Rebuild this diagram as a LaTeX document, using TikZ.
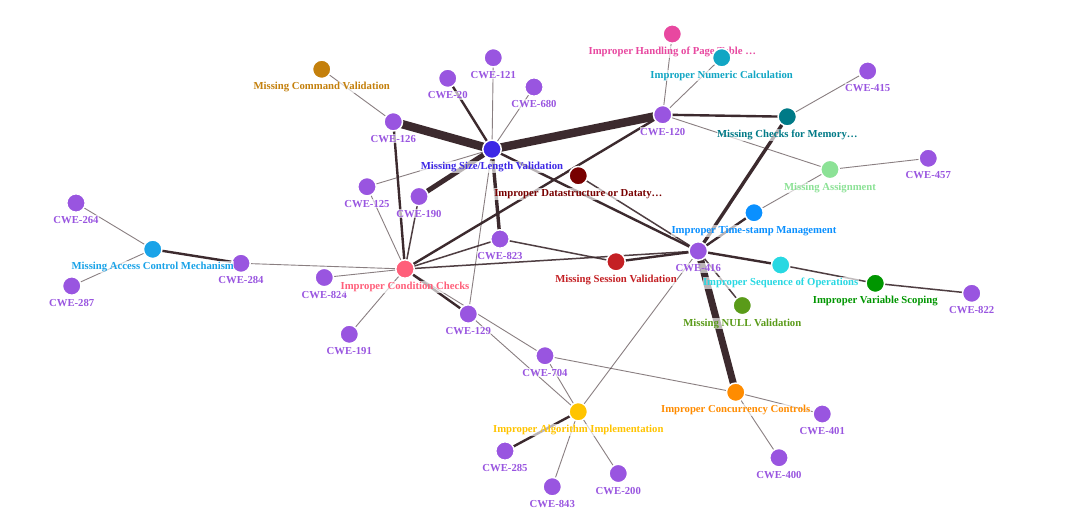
\documentclass[tikz,border=0pt]{standalone}
\usepackage{fontspec}
\setmainfont{Liberation Serif}
\pgfdeclarelayer{edges}
\pgfsetlayers{edges,main}
\definecolor{cwe}{RGB}{153,85,224}
\definecolor{edgec}{RGB}{60,42,46}
\definecolor{cpage}{RGB}{232,72,160}
\definecolor{cnum}{RGB}{17,166,196}
\definecolor{cmcv}{RGB}{196,128,12}
\definecolor{cmslv}{RGB}{61,40,230}
\definecolor{cmcm}{RGB}{0,122,135}
\definecolor{cma}{RGB}{140,226,150}
\definecolor{cds}{RGB}{120,0,0}
\definecolor{citm}{RGB}{10,144,255}
\definecolor{cmacm}{RGB}{26,163,232}
\definecolor{cmsv}{RGB}{196,32,36}
\definecolor{cicc}{RGB}{255,95,122}
\definecolor{ciso}{RGB}{40,216,226}
\definecolor{civs}{RGB}{0,150,0}
\definecolor{cnull}{RGB}{90,155,25}
\definecolor{cconc}{RGB}{255,140,0}
\definecolor{ciai}{RGB}{255,196,0}
\tikzset{
  dot/.style={circle, minimum size=18.5pt, inner sep=0pt, draw=white, line width=1.5pt},
  lbl/.style={anchor=base, inner xsep=0.5pt, inner ysep=1pt, fill=white, fill opacity=0.65, text opacity=1,
    font=\fontsize{10.7}{12}\selectfont\bfseries},
  ed/.style={draw=edgec, line cap=butt},
  e0/.style={ed, line width=0.9pt, draw opacity=0.6},
  e1/.style={ed, line width=1.5pt, draw opacity=0.9},
  e2/.style={ed, line width=2.4pt},
  e3/.style={ed, line width=3.4pt},
  e4/.style={ed, line width=5pt},
  e5/.style={ed, line width=8.5pt},
}
\newcommand\grp[5]{%
  \node[dot, fill=#4] (#1) at (#2,#3) {};
  \node[lbl, text=#4] (#1-l) at ([yshift=-20.5pt]#1.center) {#5};}
\begin{document}
\begin{tikzpicture}[x=1pt,y=-1pt]
\useasboundingbox (0,0) rectangle (1080,531);
% node groups
\grp{c121}{493.3}{57.7}{cwe}{CWE-121}
\grp{c20}{447.7}{78.3}{cwe}{CWE-20}
\grp{c680}{534}{87}{cwe}{CWE-680}
\grp{mcv}{321.7}{69.3}{cmcv}{Missing Command Validation}
\grp{c415}{867.7}{71}{cwe}{CWE-415}
\grp{c120}{662.7}{114.7}{cwe}{CWE-120}
\grp{mcm}{787.3}{116.7}{cmcm}{Missing Checks for Memory…}
\grp{c126}{393.3}{121.7}{cwe}{CWE-126}
\grp{c457}{928.3}{158.3}{cwe}{CWE-457}
\grp{ma}{830}{169.5}{cma}{Missing Assignment}
\grp{c125}{367}{186.7}{cwe}{CWE-125}
\grp{c190}{419}{196.5}{cwe}{CWE-190}
\grp{mslv}{492}{149.3}{cmslv}{Missing Size/Length Validation}
\grp{ds}{578.3}{175.7}{cds}{Improper Datastructure or Dataty…}
\grp{c264}{76}{203}{cwe}{CWE-264}
\grp{itm}{754}{212.7}{citm}{Improper Time-stamp Management}
\grp{c823}{500}{239}{cwe}{CWE-823}
\grp{c284}{241}{263.3}{cwe}{CWE-284}
\grp{macm}{152.7}{249.3}{cmacm}{Missing Access Control Mechanism}
\grp{c416}{698.3}{251}{cwe}{CWE-416}
\grp{msv}{616}{261.7}{cmsv}{Missing Session Validation}
\grp{c824}{324.3}{277.5}{cwe}{CWE-824}
\grp{icc}{405}{269}{cicc}{Improper Condition Checks}
\grp{iso}{780.7}{265}{ciso}{Improper Sequence of Operations}
\grp{c287}{71.7}{286}{cwe}{CWE-287}
\grp{ivs}{875.3}{283.3}{civs}{Improper Variable Scoping}
\grp{c822}{971.7}{293.3}{cwe}{CWE-822}
\grp{null}{742.3}{305.5}{cnull}{Missing NULL Validation}
\grp{c129}{468.3}{314}{cwe}{CWE-129}
\grp{c191}{349.3}{334.3}{cwe}{CWE-191}
\grp{c704}{545}{355.7}{cwe}{CWE-704}
\grp{conc}{735.7}{392.3}{cconc}{Improper Concurrency Controls}
\grp{c401}{822.3}{414}{cwe}{CWE-401}
\grp{iai}{578.3}{411.7}{ciai}{Improper Algorithm Implementation}
\grp{c400}{779}{457.7}{cwe}{CWE-400}
\grp{c285}{505}{451}{cwe}{CWE-285}
\grp{c200}{618.3}{473.5}{cwe}{CWE-200}
\grp{c843}{552.3}{486.7}{cwe}{CWE-843}
\grp{page}{672.3}{34}{cpage}{Improper Handling of Page Table …}
\grp{num}{721.7}{57.7}{cnum}{Improper Numeric Calculation}
% edges
\begin{pgfonlayer}{edges}
\fill[white] (0,0) rectangle (1080,531);
\draw[e0] (mcv.center) -- (c126.center);
\draw[e5] (c126.center) -- (mslv.center);
\draw[e2] (c20.center) -- (mslv.center);
\draw[e0] (c121.center) -- (mslv.center);
\draw[e0] (c680.center) -- (mslv.center);
\draw[e5] (mslv.center) -- (c120.center);
\draw[e0] (c125.center) -- (mslv.center);
\draw[e4] (c190.center) -- (mslv.center);
\draw[e2] (c126.center) -- (icc.center);
\draw[e3] (mslv.center) -- (c823.center);
\draw[e0] (mslv.center) -- (c129.center);
\draw[e2] (mslv.center) -- (c416.center);
\draw[e1] (ds.center) -- (c416.center);
\draw[e2] (c120.center) -- (icc.center);
\draw[e0] (c120.center) -- (page.center);
\draw[e0] (c120.center) -- (num.center);
\draw[e2] (c120.center) -- (mcm.center);
\draw[e0] (c120.center) -- (ma.center);
\draw[e0] (mcm.center) -- (c415.center);
\draw[e0] (ma.center) -- (c457.center);
\draw[e3] (mcm.center) -- (c416.center);
\draw[e2] (itm.center) -- (c416.center);
\draw[e0] (itm.center) -- (ma.center);
\draw[e2] (c416.center) -- (iso.center);
\draw[e1] (iso.center) -- (ivs.center);
\draw[e1] (ivs.center) -- (c822.center);
\draw[e1] (c416.center) -- (null.center);
\draw[ed, line width=7pt] (c416.center) -- (conc.center);
\draw[e0] (c416.center) -- (iai.center);
\draw[e2] (msv.center) -- (c416.center);
\draw[e1] (icc.center) -- (c416.center);
\draw[e1] (icc.center) -- (c823.center);
\draw[e1] (c823.center) -- (msv.center);
\draw[e0] (icc.center) -- (c125.center);
\draw[e1] (icc.center) -- (c190.center);
\draw[e0] (icc.center) -- (c284.center);
\draw[e0] (icc.center) -- (c824.center);
\draw[e0] (icc.center) -- (c191.center);
\draw[e2] (icc.center) -- (c129.center);
\draw[e0] (icc.center) -- (c704.center);
\draw[e0] (c129.center) -- (iai.center);
\draw[e0] (c704.center) -- (iai.center);
\draw[e0] (c704.center) -- (conc.center);
\draw[e2] (iai.center) -- (c285.center);
\draw[e0] (iai.center) -- (c843.center);
\draw[e0] (iai.center) -- (c200.center);
\draw[e0] (conc.center) -- (c401.center);
\draw[e0] (conc.center) -- (c400.center);
\draw[e0] (macm.center) -- (c264.center);
\draw[e0] (macm.center) -- (c287.center);
\draw[e2] (macm.center) -- (c284.center);
\end{pgfonlayer}
\end{tikzpicture}
\end{document}
